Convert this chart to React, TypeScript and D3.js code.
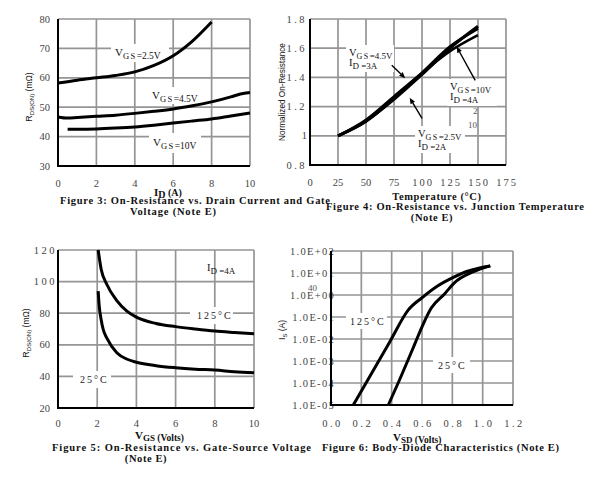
import React from "react";
import * as d3 from "d3";

// ---------- Figure 3 data: R_DS(ON) vs I_D ----------
const f3XTicks = [0, 2, 4, 6, 8, 10];
const f3YTicks = [30, 40, 50, 60, 70, 80];
const id25 = [0, 1, 2, 3, 4, 5, 6, 7, 8];
const rds25 = [58.2, 59.2, 60, 60.8, 62, 64.2, 67.5, 72.5, 79];
const id45 = [0, 0.5, 1, 2, 3, 4, 5, 6, 7, 8, 9, 9.5, 10];
const rds45 = [46.7, 46.3, 46.5, 46.9, 47.3, 47.9, 48.6, 49.4, 50.5, 51.8, 53.5, 54.5, 55];
const id10 = [0.5, 1, 2, 3, 4, 5, 6, 7, 8, 9, 10];
const rds10 = [42.5, 42.5, 42.6, 42.9, 43.3, 43.9, 44.6, 45.3, 46, 47, 48];

// ---------- Figure 4 data: normalized R vs temperature ----------
const f4XTicks = [0, 25, 50, 75, 100, 125, 150, 175];
const f4YTicks = [0.8, 1, 1.2, 1.4, 1.6, 1.8];
const f4YLabels = ["0.8", "1", "1.2", "1.4", "1.6", "1.8"];
const temps = [25, 50, 75, 100, 125, 150];
const n45 = [1.0, 1.1, 1.25, 1.42, 1.6, 1.75];
const n25 = [1.0, 1.1, 1.26, 1.43, 1.61, 1.735];
const n10 = [1.0, 1.11, 1.27, 1.43, 1.58, 1.69];

// ---------- Figure 5 data: R_DS(ON) vs V_GS ----------
const f5XTicks = [0, 2, 4, 6, 8, 10];
const f5YTicks = [20, 40, 60, 80, 100, 120];
const vgs125 = [2.05, 2.2, 2.5, 3, 3.5, 4, 5, 6, 7, 8, 9, 10];
const r125 = [120, 108, 98, 88, 81.5, 77.5, 73.5, 71.5, 70, 68.7, 67.8, 67];
const vgs25 = [2.05, 2.1, 2.2, 2.3, 2.5, 3, 3.5, 4, 5, 6, 7, 8, 9, 10];
const r25 = [94, 85, 76, 70, 64, 55, 51, 49, 46.8, 45.5, 44.6, 44, 43, 42.3];

// ---------- Figure 6 data: body diode ----------
const f6XTicks = [0, 0.2, 0.4, 0.6, 0.8, 1.0, 1.2];
const f6XLabels = ["0.0", "0.2", "0.4", "0.6", "0.8", "1.0", "1.2"];
const f6YTicks = [1e-5, 1e-4, 1e-3, 1e-2, 1e-1, 1, 10, 100];
const f6YLabels = ["1.0E-05", "1.0E-04", "1.0E-03", "1.0E-02", "1.0E-01", "1.0E+00", "1.0E+01", "1.0E+02"];
const vsd125 = [0.147, 0.25, 0.39, 0.51, 0.6, 0.7, 0.81, 0.9, 0.98, 1.05];
const is125 = [1e-5, 1.7e-4, 8e-3, 0.21, 0.75, 2.5, 6.5, 12, 17, 21];
const vsd25 = [0.378, 0.45, 0.55, 0.6, 0.66, 0.75, 0.81, 0.94, 1.05];
const is25 = [1e-5, 1.3e-4, 5.4e-3, 0.036, 0.25, 1.15, 3.4, 11.5, 21];

const SERIF = "'Liberation Serif', 'Times New Roman', serif";
const SANS = "'Liberation Sans', Arial, sans-serif";
const GRID = "#959595";
const TICK = "#444";

function zip(a: number[], b: number[]): [number, number][] {
  return a.map((v, i) => [v, b[i]]);
}

function Frame({ sx, sy, xs, ys }: { sx: any; sy: any; xs: number[]; ys: number[] }) {
  const [x0, x1] = sx.range();
  const [y0, y1] = sy.range();
  return (
    <g>
      {xs.map((v, i) => (
        <line key={"x" + i} x1={sx(v)} x2={sx(v)} y1={y0} y2={y1} stroke={GRID} strokeWidth={1.7} />
      ))}
      {ys.map((v, i) => (
        <line key={"y" + i} x1={x0} x2={x1} y1={sy(v)} y2={sy(v)} stroke={GRID} strokeWidth={1.7} />
      ))}
    </g>
  );
}

function Axes({ sx, sy }: { sx: any; sy: any }) {
  const [x0, x1] = sx.range();
  const [y0, y1] = sy.range();
  return (
    <g stroke="#000" strokeWidth={2}>
      <line x1={x0} x2={x0} y1={y0 + 1} y2={y1} />
      <line x1={x0} x2={x1} y1={y0} y2={y0} />
    </g>
  );
}

function Curve({ sx, sy, xs, ys, w = 3 }: { sx: any; sy: any; xs: number[]; ys: number[]; w?: number }) {
  const gen = d3
    .line<[number, number]>()
    .x((d) => sx(d[0]))
    .y((d) => sy(d[1]))
    .curve(d3.curveMonotoneX);
  return <path d={gen(zip(xs, ys)) || ""} fill="none" stroke="#000" strokeWidth={w} strokeLinejoin="round" />;
}

function VLabel({ x, y, sub, rest, fs = 10.5 }: { x: number; y: number; sub: string; rest: string; fs?: number }) {
  return (
    <text x={x} y={y} fontFamily={SERIF} fill="#111">
      <tspan fontSize={fs + 0.5}>V</tspan>
      <tspan fontSize={fs - 2} dy={3} letterSpacing={1.4}>{sub}</tspan>
      <tspan fontSize={fs - 1}>{rest}</tspan>
    </text>
  );
}

function ILabel({ x, y, rest, fs = 10 }: { x: number; y: number; rest: string; fs?: number }) {
  return (
    <text x={x} y={y} fontFamily={SERIF} fill="#111">
      <tspan fontSize={fs + 1}>I</tspan>
      <tspan fontSize={fs - 0.5} dy={3}>{rest}</tspan>
    </text>
  );
}

function Arrow({ x1, y1, x2, y2 }: { x1: number; y1: number; x2: number; y2: number }) {
  const a = Math.atan2(y2 - y1, x2 - x1);
  const L = 6, W = 2.6;
  const bx = x2 - L * Math.cos(a), by = y2 - L * Math.sin(a);
  const p = `${x2},${y2} ${bx - W * Math.sin(a)},${by + W * Math.cos(a)} ${bx + W * Math.sin(a)},${by - W * Math.cos(a)}`;
  return (
    <g>
      <line x1={x1} y1={y1} x2={bx} y2={by} stroke="#000" strokeWidth={1.4} />
      <polygon points={p} fill="#000" />
    </g>
  );
}

function RdsTitle({ x, y }: { x: number; y: number }) {
  return (
    <text transform={`translate(${x},${y}) rotate(-90)`} textAnchor="middle" fontFamily={SANS} fill="#111">
      <tspan fontSize={9}>R</tspan>
      <tspan fontSize={6} dy={2}>DS(ON)</tspan>
      <tspan fontSize={8.5} dy={-2}> (mΩ)</tspan>
    </text>
  );
}

export default function App() {
  const x3 = d3.scaleLinear().domain([0, 10]).range([58, 250]);
  const y3 = d3.scaleLinear().domain([30, 80]).range([166, 19]);
  const x4 = d3.scaleLinear().domain([0, 175]).range([310, 506]);
  const y4 = d3.scaleLinear().domain([0.8, 1.8]).range([165, 19]);
  const x5 = d3.scaleLinear().domain([0, 10]).range([58, 254]);
  const y5 = d3.scaleLinear().domain([20, 120]).range([408, 250]);
  const x6 = d3.scaleLinear().domain([0, 1.2]).range([331, 513]);
  const y6 = d3.scaleLog().domain([1e-5, 100]).range([405, 251]);

  const tickStyle = { fontFamily: SERIF, fontSize: 10.5, fill: TICK } as const;
  const capStyle = { fontFamily: SERIF, fontSize: 10.5, fontWeight: 700, fill: "#111" } as const;

  return (
    <svg width={600} height={483} style={{ position: "absolute", left: 0, top: 0, background: "#fff" }}>
      <rect width={600} height={483} fill="#fff" />

      {/* ================= Figure 3 ================= */}
      <Frame sx={x3} sy={y3} xs={f3XTicks} ys={f3YTicks} />
      <g fill="#fff">
        <rect x={111} y={44} width={58} height={18} />
        <rect x={149} y={87} width={54} height={17} />
        <rect x={149} y={133} width={52} height={20} />
      </g>
      <Curve sx={x3} sy={y3} xs={id25} ys={rds25} />
      <Curve sx={x3} sy={y3} xs={id45} ys={rds45} />
      <Curve sx={x3} sy={y3} xs={id10} ys={rds10} />
      <Axes sx={x3} sy={y3} />
      <VLabel x={115} y={56} sub="GS" rest="=2.5V" />
      <VLabel x={152} y={99} sub="GS" rest="=4.5V" />
      <VLabel x={153} y={146} sub="GS" rest="=10V" />
      {f3XTicks.map((v) => (
        <text key={v} x={x3(v)} y={187} textAnchor="middle" {...tickStyle}>{v}</text>
      ))}
      {f3YTicks.map((v) => (
        <text key={v} x={50} y={y3(v) + 3.5} textAnchor="end" {...tickStyle}>{v}</text>
      ))}
      <RdsTitle x={32} y={97} />
      <text x={154} y={196} fontFamily={SERIF} fontWeight={700} fill="#111">
        <tspan fontSize={11}>I</tspan>
        <tspan fontSize={10} dy={2}>D</tspan>
        <tspan fontSize={10} dy={-2}> (A)</tspan>
      </text>
      <text x={60} y={204} {...capStyle} textLength={270} lengthAdjust="spacing">
        Figure 3: On-Resistance vs. Drain Current and Gate
      </text>
      <text x={130} y={215} {...capStyle} textLength={86} lengthAdjust="spacing">
        Voltage (Note E)
      </text>

      {/* ================= Figure 4 ================= */}
      <Frame sx={x4} sy={y4} xs={f4XTicks} ys={f4YTicks} />
      <g fill="#fff">
        <rect x={346} y={45} width={48} height={27} />
        <rect x={447} y={79} width={50} height={27} />
        <rect x={415} y={126} width={50} height={27} />
      </g>
      <Curve sx={x4} sy={y4} xs={temps} ys={n25} w={3} />
      <Curve sx={x4} sy={y4} xs={temps} ys={n45} w={3} />
      <Curve sx={x4} sy={y4} xs={temps} ys={n10} w={2.6} />
      <Axes sx={x4} sy={y4} />
      <Arrow x1={x4(73)} y1={y4(1.484)} x2={x4(85)} y2={y4(1.395)} />
      <Arrow x1={x4(100)} y1={y4(1.12)} x2={x4(89)} y2={y4(1.26)} />
      <Arrow x1={x4(147.5)} y1={y4(1.38)} x2={x4(131)} y2={y4(1.61)} />
      <VLabel x={349} y={56} sub="GS" rest="=4.5V" fs={10} />
      <ILabel x={349} y={66} rest="D =3A" fs={9.5} />
      <VLabel x={450} y={90} sub="GS" rest="=10V" fs={10} />
      <ILabel x={450} y={100} rest="D =4A" fs={9.5} />
      <VLabel x={418} y={137} sub="GS" rest="=2.5V" fs={10} />
      <ILabel x={418} y={147} rest="D =2A" fs={9.5} />
      <text x={473} y={114} fontFamily={SERIF} fontSize={9} fill="#555">2</text>
      <text x={468} y={128} fontFamily={SERIF} fontSize={9} fill="#555">10</text>
      {f4XTicks.map((v) => (
        <text key={v} x={x4(v) + (v >= 100 ? 1 : 0)} y={186} textAnchor="middle" letterSpacing={v >= 100 ? 2 : 0} {...tickStyle}>{v}</text>
      ))}
      {f4YTicks.map((v, i) => (
        <text key={v} x={307} y={y4(v) + 3.5} textAnchor="end" letterSpacing={f4YLabels[i].length > 1 ? 2.5 : 0} {...tickStyle}>{f4YLabels[i]}</text>
      ))}
      <text transform="translate(285,92) rotate(-90)" textAnchor="middle" fontFamily={SANS} fontSize={8.2} fill="#111">
        Normalized On-Resistance
      </text>
      <text x={437} y={200} textAnchor="middle" fontFamily={SERIF} fontSize={10.5} fontWeight={700} fill="#111" letterSpacing={0.6}>
        Temperature (°C)
      </text>
      <text x={326} y={210} {...capStyle} textLength={258} lengthAdjust="spacing">
        Figure 4: On-Resistance vs. Junction Temperature
      </text>
      <text x={432} y={221} textAnchor="middle" {...capStyle} letterSpacing={0.6}>
        (Note E)
      </text>

      {/* ================= Figure 5 ================= */}
      <Frame sx={x5} sy={y5} xs={f5XTicks} ys={f5YTicks} />
      <g fill="#fff">
        <rect x={190} y={307} width={43} height={17} />
        <rect x={73} y={371} width={38} height={17} />
      </g>
      <Curve sx={x5} sy={y5} xs={vgs125} ys={r125} />
      <Curve sx={x5} sy={y5} xs={vgs25} ys={r25} />
      <Axes sx={x5} sy={y5} />
      <ILabel x={207} y={271} rest="D =4A" fs={9.5} />
      <text x={197} y={319} fontFamily={SERIF} fontSize={10} fill="#222" letterSpacing={2}>125°C</text>
      <text x={80} y={383} fontFamily={SERIF} fontSize={10} fill="#222" letterSpacing={2}>25°C</text>
      {f5XTicks.map((v) => (
        <text key={v} x={x5(v)} y={427} textAnchor="middle" {...tickStyle}>{v}</text>
      ))}
      {f5YTicks.map((v) => (
        <text key={v} x={v >= 100 ? 57 : 50} y={y5(v) + 3.5} textAnchor="end" letterSpacing={v >= 100 ? 2.5 : 0} {...tickStyle}>{v}</text>
      ))}
      <RdsTitle x={29} y={333} />
      <text x={135} y={439} fontFamily={SERIF} fontWeight={700} fill="#111">
        <tspan fontSize={11}>V</tspan>
        <tspan fontSize={9} dy={2}>GS</tspan>
        <tspan fontSize={9.5} dy={0}> (Volts)</tspan>
      </text>
      <text x={52} y={451} {...capStyle} textLength={259} lengthAdjust="spacing">
        Figure 5: On-Resistance vs. Gate-Source Voltage
      </text>
      <text x={146} y={462} textAnchor="middle" {...capStyle} letterSpacing={0.6}>
        (Note E)
      </text>

      {/* ================= Figure 6 ================= */}
      <Frame sx={x6} sy={y6} xs={f6XTicks} ys={f6YTicks} />
      <g fill="#fff">
        <rect x={346} y={313} width={41} height={16} />
        <rect x={433} y={357} width={37} height={16} />
      </g>
      <Curve sx={x6} sy={y6} xs={vsd125} ys={is125} />
      <Curve sx={x6} sy={y6} xs={vsd25} ys={is25} />
      {f6YTicks.map((v, i) => (
        <text key={i} x={335} y={y6(v) + 3.5} textAnchor="end" letterSpacing={1.3} {...tickStyle}>{f6YLabels[i]}</text>
      ))}
      <Axes sx={x6} sy={y6} />
      <text x={350} y={325} fontFamily={SERIF} fontSize={10} fill="#222" letterSpacing={2}>125°C</text>
      <text x={438} y={369} fontFamily={SERIF} fontSize={10} fill="#222" letterSpacing={2}>25°C</text>
      <text x={308} y={291} fontFamily={SERIF} fontSize={9} fill="#555">40</text>
      {f6XTicks.map((v, i) => (
        <text key={i} x={x6(v) + 1.5} y={427} textAnchor="middle" letterSpacing={2.5} {...tickStyle}>{f6XLabels[i]}</text>
      ))}
      <text transform="translate(285,330) rotate(-90)" textAnchor="middle" fontFamily={SANS} fill="#111">
        <tspan fontSize={9}>I</tspan>
        <tspan fontSize={6} dy={2}>S</tspan>
        <tspan fontSize={8.5} dy={-2}> (A)</tspan>
      </text>
      <text x={393} y={441} fontFamily={SERIF} fontWeight={700} fill="#111">
        <tspan fontSize={11}>V</tspan>
        <tspan fontSize={9} dy={2}>SD</tspan>
        <tspan fontSize={9.5} dy={0}> (Volts)</tspan>
      </text>
      <text x={322} y={451} {...capStyle} textLength={237} lengthAdjust="spacing">
        Figure 6: Body-Diode Characteristics (Note E)
      </text>
    </svg>
  );
}
